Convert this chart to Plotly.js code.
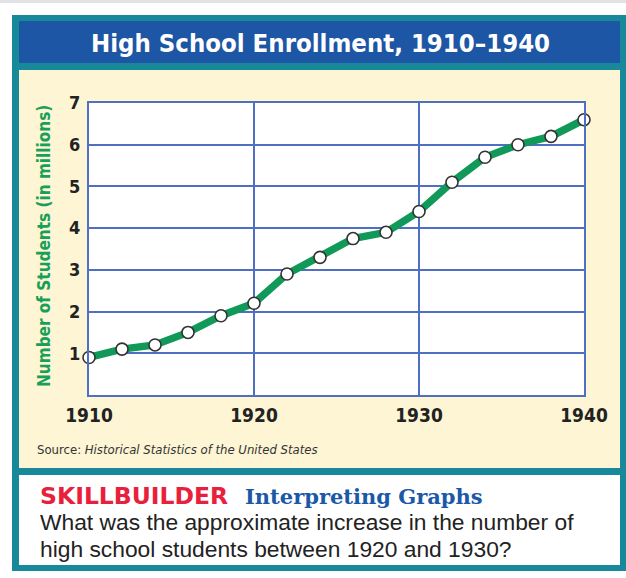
<!DOCTYPE html>
<html>
<head>
<meta charset="utf-8">
<script src="https://cdn.plot.ly/plotly-3.0.1.min.js"></script>
<style>html,body{margin:0;padding:0;background:#fff;}#chart{width:626px;height:578px;}</style>
</head>
<body>
<div id="chart"></div>
<script>
// Data
const years = [1910,1912,1914,1916,1918,1920,1922,1924,1926,1928,1930,1932,1934,1936,1938,1940];
const enrollmentMillions = [0.9,1.1,1.2,1.5,1.9,2.2,2.9,3.3,3.75,3.9,4.4,5.1,5.7,6.0,6.2,6.6];
const xTicks = [1910,1920,1930,1940];
const yTicks = [1,2,3,4,5,6,7];
const chartTitle = "High School Enrollment, 1910–1940";
const yTitle = "Number of Students (in millions)";
const sourceText = "Source: <i>Historical Statistics of the United States</i>";
const skillLabel = "SKILLBUILDER";
const skillTopic = "Interpreting Graphs";
const questionLines = ["What was the approximate increase in the number of", "high school students between 1920 and 1930?"];

// pixel -> paper helpers (plot area: x 89..584, y 103..395)
const L = 89, R = 584, T = 103, B = 395;
const px = x => (x - L) / (R - L);
const py = y => (B - y) / (B - T);
function rect(x0, y0, x1, y1, color) {
  return {type: 'rect', xref: 'paper', yref: 'paper', layer: 'below',
    x0: px(x0), x1: px(x1), y0: py(y1), y1: py(y0),
    fillcolor: color, line: {width: 0}};
}
const NARROW = '"Liberation Sans Narrow", "DejaVu Sans Condensed", "Arial Narrow", "Liberation Sans", sans-serif';
const gridBlue = '#4d70c2';

const shapes = [
  rect(0, 0, 626, 3, '#e2e2e6'),
  rect(12, 15, 626, 571, '#17899a'),
  rect(19, 21, 620, 63, '#1d56a4'),
  rect(19, 70, 620, 468, '#fdf5d4'),
  rect(19, 475, 620, 565, '#ffffff'),
  rect(L, T, R, B, '#ffffff')
];

const annotations = [
  {text: chartTitle, xref: 'paper', yref: 'paper', x: px(320), y: py(43), xanchor: 'center', yanchor: 'middle',
   showarrow: false, font: {family: NARROW, size: 25.5, color: '#ffffff', weight: 'bold'}},
  {text: yTitle, xref: 'paper', yref: 'paper', x: px(44), y: py(246), xanchor: 'center', yanchor: 'middle',
   textangle: -90, showarrow: false, font: {family: NARROW, size: 17, color: '#16a05a', weight: 'bold'}},
  {text: sourceText, xref: 'paper', yref: 'paper', x: px(35), y: py(449), xanchor: 'left', yanchor: 'middle',
   showarrow: false, font: {family: NARROW, size: 13, color: '#333333'}},
  {text: skillLabel, xref: 'paper', yref: 'paper', x: px(38), y: py(496), xanchor: 'left', yanchor: 'middle',
   showarrow: false, font: {family: '"DejaVu Sans", "Liberation Sans", sans-serif', size: 23.5, color: '#e8203c', weight: 'bold'}},
  {text: skillTopic, xref: 'paper', yref: 'paper', x: px(243), y: py(496), xanchor: 'left', yanchor: 'middle',
   showarrow: false, font: {family: '"DejaVu Serif", "Liberation Serif", serif', size: 21, color: '#1a58a8', weight: 'bold'}},
  {text: questionLines[0], xref: 'paper', yref: 'paper', x: px(38), y: py(522), xanchor: 'left', yanchor: 'middle',
   showarrow: false, font: {family: '"Liberation Sans", Arial, sans-serif', size: 22.8, color: '#222222'}},
  {text: questionLines[1], xref: 'paper', yref: 'paper', x: px(38), y: py(549), xanchor: 'left', yanchor: 'middle',
   showarrow: false, font: {family: '"Liberation Sans", Arial, sans-serif', size: 22.8, color: '#222222'}}
];

const trace = {
  x: years, y: enrollmentMillions, type: 'scatter', mode: 'lines+markers',
  line: {color: '#11995a', width: 7.5},
  marker: {size: 12, color: '#ffffff', line: {color: '#333333', width: 1.6}},
  cliponaxis: false, hoverinfo: 'skip'
};

const layout = {
  width: 626, height: 578,
  margin: {l: L, r: 626 - R, t: T, b: 578 - B, pad: 0},
  paper_bgcolor: '#ffffff', plot_bgcolor: '#ffffff',
  showlegend: false,
  xaxis: {range: [1910, 1940], tickvals: xTicks, ticktext: xTicks.map(String),
    showgrid: true, gridcolor: gridBlue, gridwidth: 2, zeroline: false,
    showline: true, mirror: true, linecolor: gridBlue, linewidth: 2,
    ticks: '', ticklabelstandoff: 2, automargin: false, fixedrange: true,
    tickfont: {family: NARROW, size: 19, color: '#222222', weight: 'bold'}},
  yaxis: {range: [0, 7], tickvals: yTicks, ticktext: yTicks.map(String),
    showgrid: true, gridcolor: gridBlue, gridwidth: 2, zeroline: false,
    showline: true, mirror: true, linecolor: gridBlue, linewidth: 2,
    ticks: '', ticklabelstandoff: 3, automargin: false, fixedrange: true,
    tickfont: {family: NARROW, size: 18, color: '#222222', weight: 'bold'}},
  shapes: shapes,
  annotations: annotations
};

Plotly.newPlot('chart', [trace], layout, {displayModeBar: false, staticPlot: true});
</script>
</body>
</html>
